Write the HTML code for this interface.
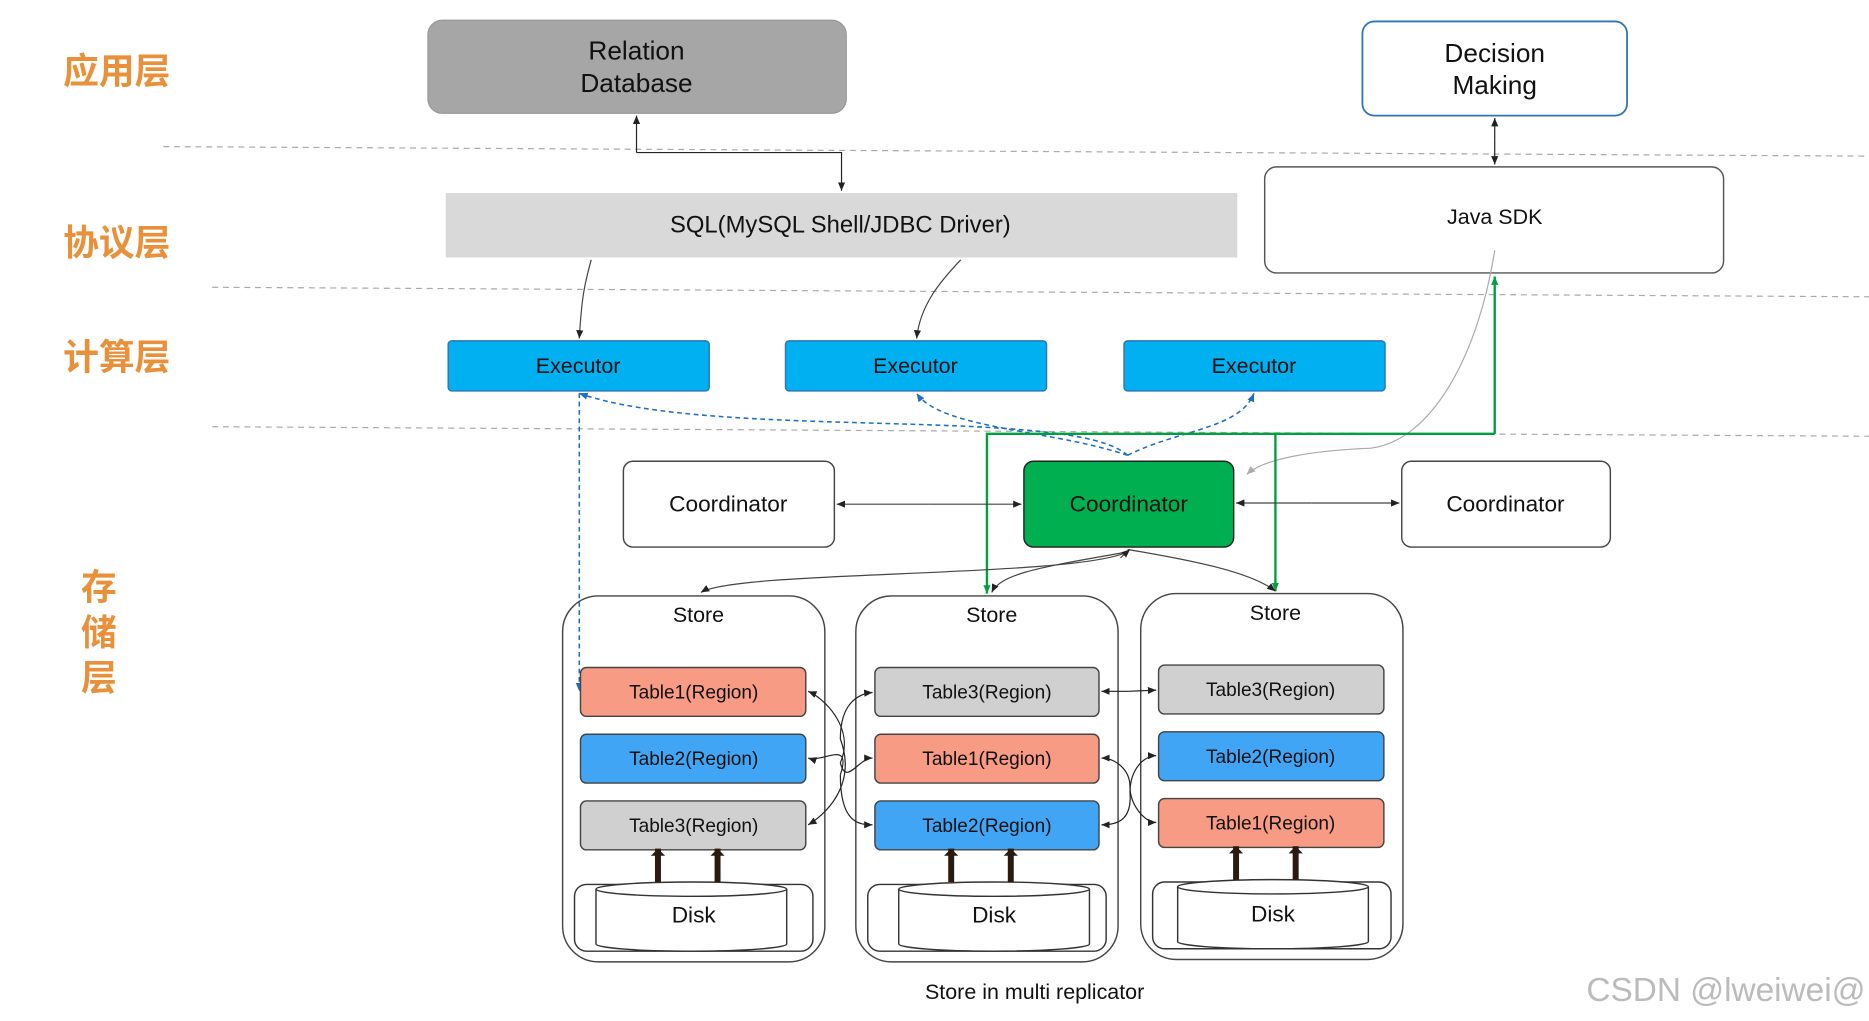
<!DOCTYPE html>
<html><head><meta charset="utf-8"><style>
html,body{margin:0;padding:0;background:#fff;}
svg{display:block;}
text{font-family:"Liberation Sans","Noto Sans CJK SC",sans-serif;}
</style></head><body>
<svg width="1869" height="1021" viewBox="0 0 1568 856.6" preserveAspectRatio="none" xmlns="http://www.w3.org/2000/svg">
<defs>
<marker id="a" markerWidth="8" markerHeight="8" refX="7" refY="4" orient="auto" markerUnits="userSpaceOnUse"><path d="M0,1 L7,4 L0,7 z" fill="#222"/></marker>
<marker id="ab" markerWidth="8" markerHeight="8" refX="7" refY="4" orient="auto" markerUnits="userSpaceOnUse"><path d="M0,1 L7,4 L0,7 z" fill="#1f6fc0"/></marker>
<marker id="ag" markerWidth="8" markerHeight="8" refX="7" refY="4" orient="auto" markerUnits="userSpaceOnUse"><path d="M0,1 L7,4 L0,7 z" fill="#00a040"/></marker>
<marker id="agr" markerWidth="8" markerHeight="8" refX="7" refY="4" orient="auto" markerUnits="userSpaceOnUse"><path d="M0,1 L7,4 L0,7 z" fill="#aaa"/></marker>
<marker id="big" markerWidth="12" markerHeight="12" refX="6" refY="6" orient="auto" markerUnits="userSpaceOnUse"><path d="M0,0 L6,6 L0,12 z" fill="#2a1a10"/></marker>
</defs>
<!-- layer labels -->
<g fill="#e8913a" font-size="30" font-weight="bold">
<text x="53" y="70">应用层</text>
<text x="53" y="214">协议层</text>
<text x="53" y="310">计算层</text>
<text x="68" y="503">存</text>
<text x="68" y="541">储</text>
<text x="68" y="579">层</text>
</g>
<!-- dashed separators -->
<g stroke="#aaa" stroke-dasharray="5,4" stroke-width="1">
<line x1="137" y1="123" x2="1568" y2="131"/>
<line x1="178" y1="241" x2="1568" y2="249"/>
<line x1="178" y1="358" x2="1568" y2="366"/>
</g>
<!-- top boxes -->
<rect x="359" y="17" width="351" height="78" rx="12" fill="#a6a6a6" stroke="#999"/>
<text x="534" y="50" font-size="22" text-anchor="middle" fill="#111">Relation</text>
<text x="534" y="77" font-size="22" text-anchor="middle" fill="#111">Database</text>
<rect x="1143" y="18" width="222" height="79" rx="10" fill="#fff" stroke="#2e75b6" stroke-width="1.5"/>
<text x="1254" y="52" font-size="22" text-anchor="middle" fill="#111">Decision</text>
<text x="1254" y="79" font-size="22" text-anchor="middle" fill="#111">Making</text>
<rect x="374" y="162" width="664" height="54" fill="#d9d9d9"/>
<text x="705" y="195" font-size="20" text-anchor="middle" fill="#111">SQL(MySQL Shell/JDBC Driver)</text>
<rect x="1061" y="140" width="385" height="89" rx="10" fill="#fff" stroke="#555" stroke-width="1.2"/>
<text x="1254" y="188" font-size="18" text-anchor="middle" fill="#111">Java SDK</text>
<!-- top connectors -->
<path d="M534,128 L534,97" stroke="#222" fill="none" marker-end="url(#a)"/>
<path d="M534,128 L706,128 L706,160" stroke="#222" fill="none" marker-end="url(#a)"/>
<path d="M1254,118 L1254,99" stroke="#222" marker-end="url(#a)"/>
<path d="M1254,118 L1254,138" stroke="#222" marker-end="url(#a)"/>
<path d="M496,218 C490,240 488,250 486,284" stroke="#444" fill="none" marker-end="url(#a)"/>
<path d="M806,218 C790,235 772,255 769,284" stroke="#444" fill="none" marker-end="url(#a)"/>
<!-- executors -->
<g fill="#00b0f0" stroke="#2e75b6" stroke-width="1.2">
<rect x="376" y="286" width="219" height="42" rx="3"/>
<rect x="659" y="286" width="219" height="42" rx="3"/>
<rect x="943" y="286" width="219" height="42" rx="3"/>
</g>
<g font-size="18" text-anchor="middle" fill="#111">
<text x="485" y="313">Executor</text><text x="768" y="313">Executor</text><text x="1052" y="313">Executor</text>
</g>
<!-- blue dashed -->
<g stroke="#1f6fc0" stroke-dasharray="4,3" fill="none" stroke-width="1.3">
<path d="M946,382 C900,340 600,370 486,330" marker-end="url(#ab)"/>
<path d="M946,382 C880,360 790,360 769,330" marker-end="url(#ab)"/>
<path d="M946,382 C990,360 1040,360 1052,330" marker-end="url(#ab)"/>
<path d="M486,330 L486,580" marker-end="url(#ab)"/>
</g>
<!-- gray sdk link -->
<path d="M1254,210 C1240,300 1200,370 1150,376 C1100,378 1060,385 1046,398" stroke="#aaa" fill="none" marker-end="url(#agr)"/>
<!-- green -->
<g stroke="#00a040" stroke-width="2" fill="none">
<path d="M1254,364 L1254,232" marker-end="url(#ag)"/>
<path d="M1254,364 L828,364 L828,498" marker-end="url(#ag)"/>
<path d="M1070,364 L1070,496" marker-end="url(#ag)"/>
</g>
<!-- coordinators -->
<rect x="523" y="387" width="177" height="72" rx="8" fill="#fff" stroke="#444" stroke-width="1.2"/>
<rect x="859" y="387" width="176" height="72" rx="8" fill="#00b050" stroke="#222" stroke-width="1.2"/>
<rect x="1176" y="387" width="175" height="72" rx="8" fill="#fff" stroke="#444" stroke-width="1.2"/>
<g font-size="19" text-anchor="middle" fill="#111">
<text x="611" y="429">Coordinator</text><text x="947" y="429">Coordinator</text><text x="1263" y="429">Coordinator</text>
</g>
<g stroke="#444" fill="none">
<path d="M780,423 L702,423" marker-end="url(#a)"/><path d="M780,423 L857,423" marker-end="url(#a)"/>
<path d="M1100,422 L1037,422" marker-end="url(#a)"/><path d="M1100,422 L1174,422" marker-end="url(#a)"/>
<path d="M946,463 C900,485 620,478 588,497" marker-end="url(#a)"/>
<path d="M946,463 C880,475 840,480 832,497" marker-end="url(#a)"/>
<path d="M946,461 C1000,470 1050,480 1070,496" marker-end="url(#a)"/>
<path d="M940,468 L948,461" marker-end="url(#a)"/>
</g>
<!-- stores -->
<g fill="none" stroke="#444" stroke-width="1.2">
<rect x="472" y="500" width="220" height="307" rx="30"/>
<rect x="718" y="500" width="220" height="307" rx="30"/>
<rect x="957" y="498" width="220" height="307" rx="30"/>
</g>
<g font-size="18" text-anchor="middle" fill="#111">
<text x="586" y="522">Store</text><text x="832" y="522">Store</text><text x="1070" y="520">Store</text>
</g>
<!-- tables -->
<g stroke="#444" stroke-width="1.2">
<rect x="487" y="560" width="189" height="41" rx="5" fill="#f79b85"/>
<rect x="487" y="616" width="189" height="41" rx="5" fill="#41a5f5"/>
<rect x="487" y="672" width="189" height="41" rx="5" fill="#d0d0d0"/>
<rect x="734" y="560" width="188" height="41" rx="5" fill="#d0d0d0"/>
<rect x="734" y="616" width="188" height="41" rx="5" fill="#f79b85"/>
<rect x="734" y="672" width="188" height="41" rx="5" fill="#41a5f5"/>
<rect x="972" y="558" width="189" height="41" rx="5" fill="#d0d0d0"/>
<rect x="972" y="614" width="189" height="41" rx="5" fill="#41a5f5"/>
<rect x="972" y="670" width="189" height="41" rx="5" fill="#f79b85"/>
</g>
<g font-size="16" text-anchor="middle" fill="#111">
<text x="582" y="586">Table1(Region)</text><text x="582" y="642">Table2(Region)</text><text x="582" y="698">Table3(Region)</text>
<text x="828" y="586">Table3(Region)</text><text x="828" y="642">Table1(Region)</text><text x="828" y="698">Table2(Region)</text>
<text x="1066" y="584">Table3(Region)</text><text x="1066" y="640">Table2(Region)</text><text x="1066" y="696">Table1(Region)</text>
</g>
<!-- inter-table links -->
<g stroke="#222" fill="none">
<path d="M705,640 C718,610 690,585 678,580" marker-end="url(#a)"/>
<path d="M705,640 C710,660 720,636 732,636" marker-end="url(#a)"/>
<path d="M705,650 C715,620 690,640 678,636" marker-end="url(#a)"/>
<path d="M705,650 C705,690 720,692 732,692" marker-end="url(#a)"/>
<path d="M705,620 C720,660 690,685 678,692" marker-end="url(#a)"/>
<path d="M705,620 C705,590 720,582 732,581" marker-end="url(#a)"/>
<path d="M947,580 L924,580" marker-end="url(#a)"/><path d="M947,580 L970,579" marker-end="url(#a)"/>
<path d="M948,660 C948,645 935,636 924,636" marker-end="url(#a)"/>
<path d="M948,660 C948,675 960,690 970,690" marker-end="url(#a)"/>
<path d="M948,665 C950,690 935,692 924,692" marker-end="url(#a)"/>
<path d="M948,665 C948,645 960,634 970,634" marker-end="url(#a)"/>
</g>
<!-- disks -->
<g id="d">
</g>
<g stroke="#333" stroke-width="1.2" fill="#fff">
<rect x="482" y="742" width="200" height="56" rx="10"/>
<path d="M500,746 L500,792 A80,6 0 0 0 660,792 L660,746"/><ellipse cx="580" cy="746" rx="80" ry="6"/>
<rect x="728" y="742" width="200" height="56" rx="10"/>
<path d="M754,746 L754,792 A80,6 0 0 0 914,792 L914,746"/><ellipse cx="834" cy="746" rx="80" ry="6"/>
<rect x="967" y="740" width="200" height="56" rx="10"/>
<path d="M988,744 L988,790 A80,6 0 0 0 1148,790 L1148,744"/><ellipse cx="1068" cy="744" rx="80" ry="6"/>
</g>
<g font-size="19" text-anchor="middle" fill="#111">
<text x="582" y="774">Disk</text><text x="834" y="774">Disk</text><text x="1068" y="773">Disk</text>
</g>
<g stroke="#2a1a10" stroke-width="5">
<line x1="552" y1="740" x2="552" y2="712" marker-end="url(#big)"/><line x1="602" y1="740" x2="602" y2="712" marker-end="url(#big)"/>
<line x1="798" y1="740" x2="798" y2="712" marker-end="url(#big)"/><line x1="848" y1="740" x2="848" y2="712" marker-end="url(#big)"/>
<line x1="1037" y1="738" x2="1037" y2="710" marker-end="url(#big)"/><line x1="1087" y1="738" x2="1087" y2="710" marker-end="url(#big)"/>
</g>
<text x="868" y="838" font-size="18" text-anchor="middle" fill="#111">Store in multi replicator</text>
<text x="1448" y="840" font-size="28" text-anchor="middle" fill="#bbb">CSDN @lweiwei@</text>
</svg>
</body></html>
